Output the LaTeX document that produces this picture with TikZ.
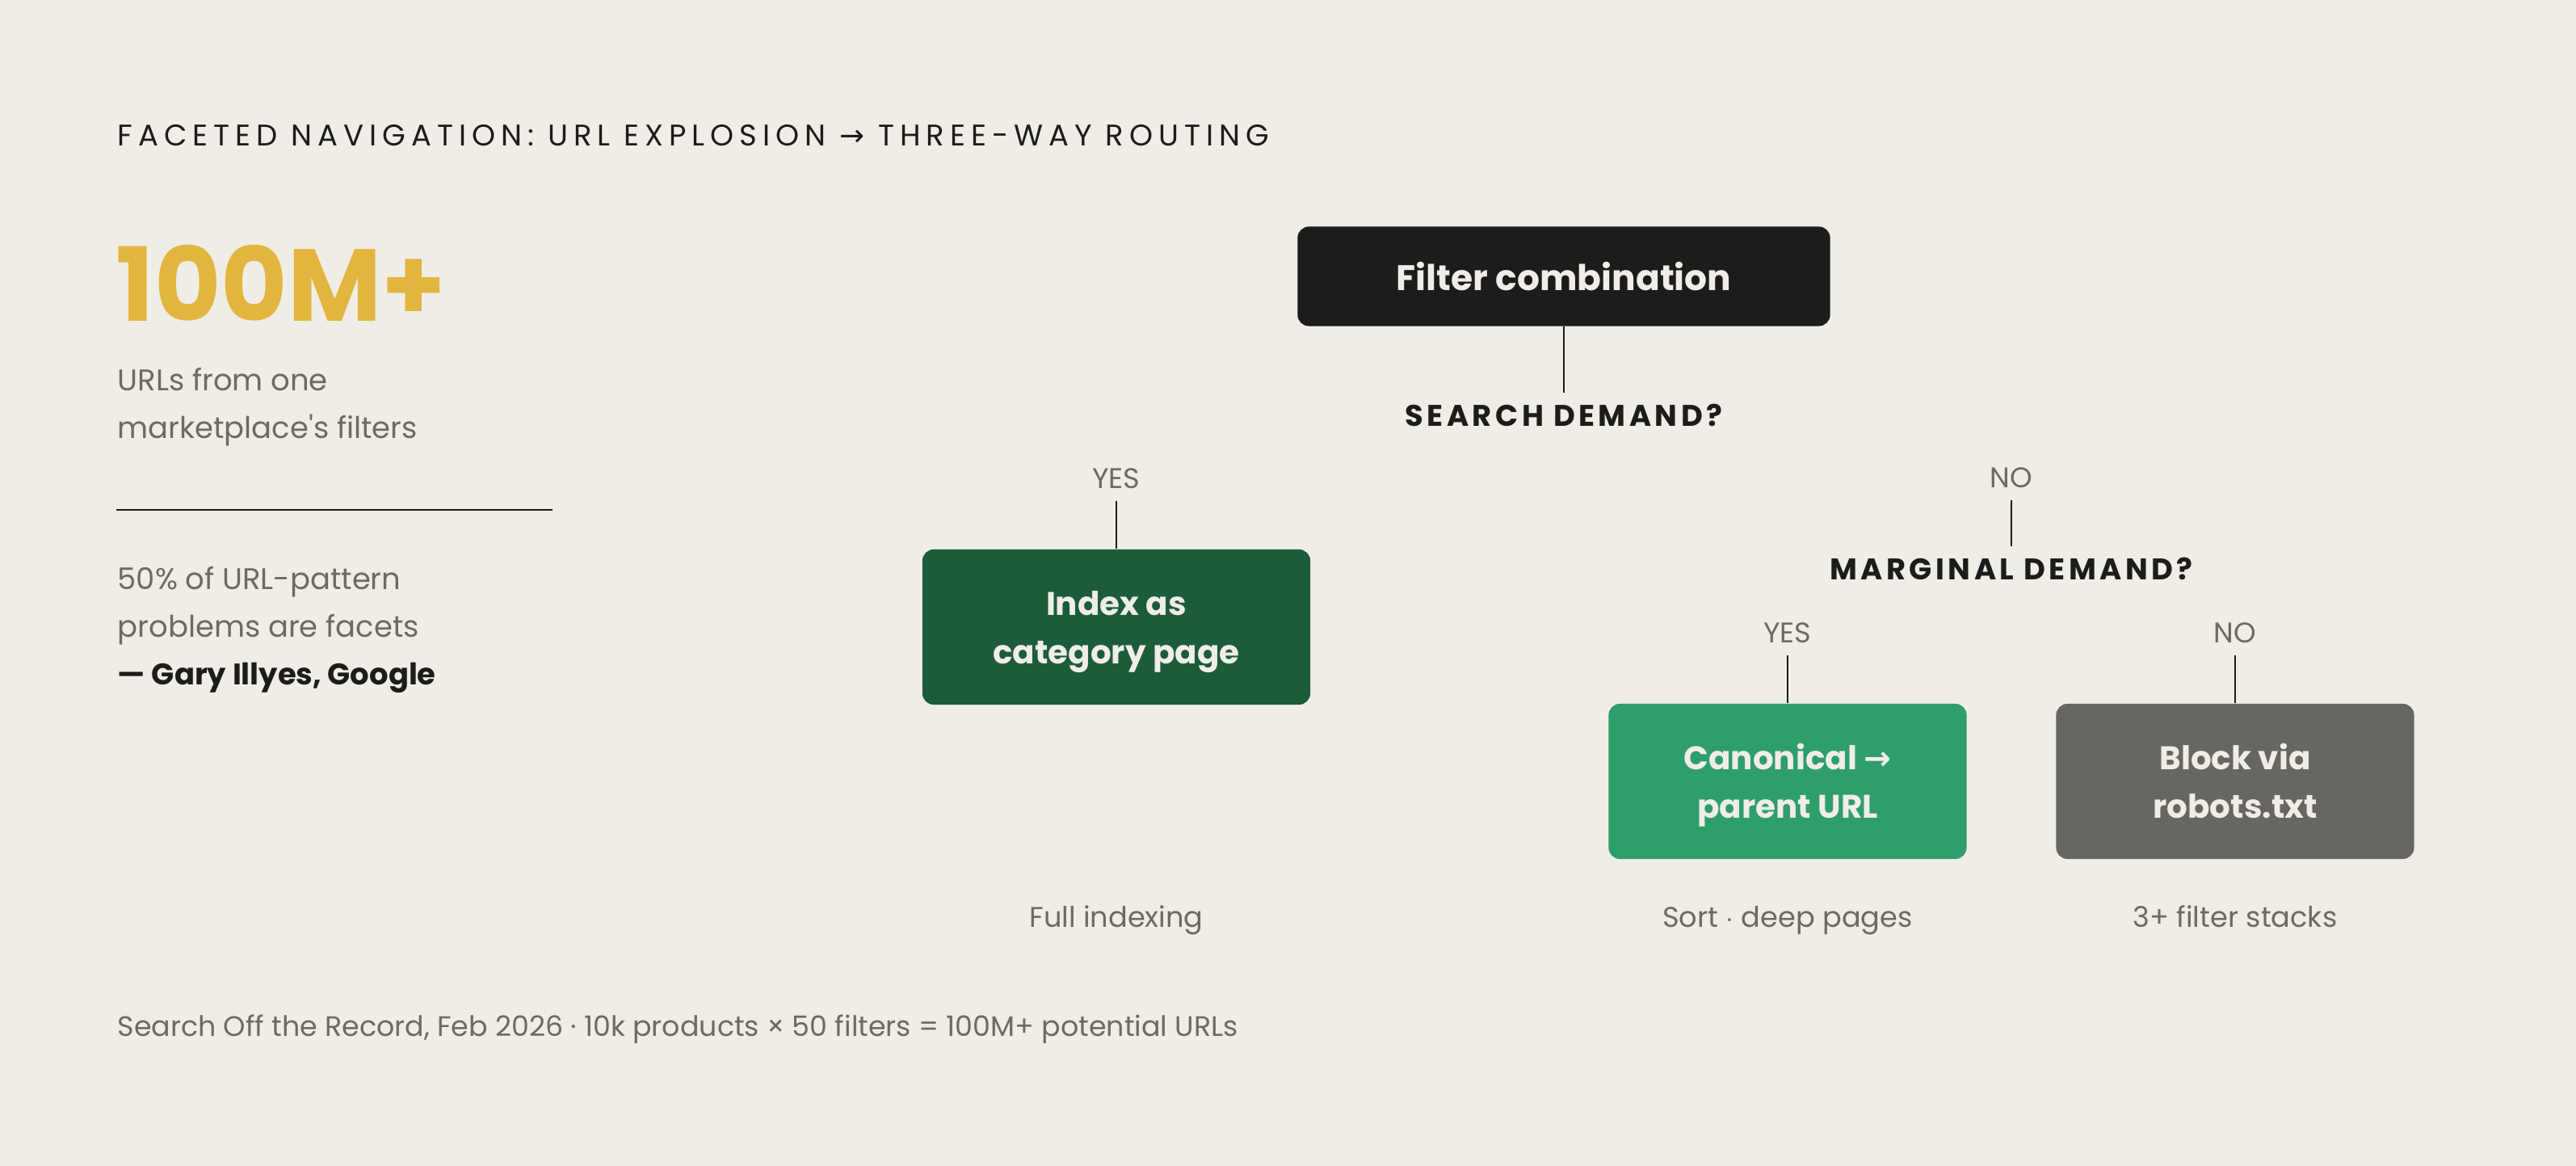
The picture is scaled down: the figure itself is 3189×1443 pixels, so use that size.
\documentclass[tikz,border=0pt]{standalone}
\usepackage{fontspec}
\setmainfont{Poppins}
\newfontfamily\arrowfont{DejaVu Sans}
\newfontfamily\titlefont[LetterSpace=19]{Poppins}
\newfontfamily\askfont[LetterSpace=12]{Poppins}
\usepackage{tikz}
\usetikzlibrary{positioning,calc}

\definecolor{paper}{HTML}{F0EDE6}
\definecolor{ink}{HTML}{1C1C1A}
\definecolor{muted}{HTML}{6B6A65}
\definecolor{gold}{HTML}{E2B53E}
\definecolor{forest}{HTML}{1C5C3B}
\definecolor{mint}{HTML}{2E9E6C}
\definecolor{slate}{HTML}{676661}

\newcommand{\rarr}{{\arrowfont\char"2192}}

\tikzset{
  txt/.style={inner sep=0pt, anchor=base west, text=muted, font=\fontsize{10.5}{16.8}\selectfont},
  ask/.style={anchor=base, inner sep=4pt, text=ink, font=\askfont\bfseries\fontsize{10.5}{12}\selectfont},
  branch/.style={anchor=base, inner sep=4pt, text=muted, font=\fontsize{10}{12}\selectfont},
  outcome/.style={rounded corners=4pt, align=center, text=paper, minimum width=4.43cm,
    minimum height=1.92cm, inner sep=0pt, text height=25.6pt, text depth=0pt,
    font=\bfseries\fontsize{11.5}{16.8}\selectfont},
  note/.style={anchor=base, inner sep=0pt, text=muted, font=\fontsize{10}{12}\selectfont},
  link/.style={draw=ink, line width=0.7pt}
}

\begin{document}
\begin{tikzpicture}[x=0.01cm,y=-0.01cm]
\fill[paper] (0,0) rectangle (3189,1443);

% heading and left column
\node[txt, text=ink, font=\titlefont\fontsize{10.5}{12}\selectfont] (title) at (145,181)
  {FACETED NAVIGATION: URL EXPLOSION \rarr\ THREE-WAY ROUTING};
\node[txt, text=gold, font=\bfseries\fontsize{36}{40}\selectfont] (bignum) at (143,398) {100M+};
% multi-line texts sit on their last baseline
\node[txt, align=left] (bigcap) at (145,543) {URLs from one\\marketplace\textquotesingle s filters};
\draw[ink, line width=0.8pt] (144,631) -- (684,631);
\node[txt, align=left] (quote) at (145,848) {50\% of URL-pattern\\problems are facets\\
  \textcolor{ink}{\bfseries --- Gary Illyes, Google}};

% decision tree
\node[fill=ink, rounded corners=4pt, minimum width=6.59cm, minimum height=1.23cm, text=paper,
  font=\bfseries\fontsize{12.5}{14}\selectfont] (filter) at (1936,342) {Filter combination};
\node[ask] (search) at (1936,528) {SEARCH DEMAND?};
\draw[link] (filter.south) -- (search.north);

\node[branch] (yesA) at (1382,605) {YES};
\node[outcome, fill=forest, minimum width=4.8cm] (index) at (1382,776) {Index as\\category page};
\draw[link] (yesA.south) -- (index.north);

\node[branch] (noA) at (2490,604) {NO};
\node[ask] (marginal) at (2490,718) {MARGINAL DEMAND?};
\draw[link] (noA.south) -- (marginal.north);

\node[branch] (yesB) at (2213,796) {YES};
\node[outcome, fill=mint] (canon) at (2213,967) {Canonical \rarr\\parent URL};
\draw[link] (yesB.south) -- (canon.north);

\node[branch] (noB) at (2767,796) {NO};
\node[outcome, fill=slate] (block) at (2767,967) {Block via\\robots.txt};
\draw[link] (noB.south) -- (block.north);

\node[note] (fullidx) at (1382,1148) {Full indexing};
\node[note] (sortdeep) at (2213,1148) {Sort $\cdot$ deep pages};
\node[note] (stacks) at (2767,1148) {3+ filter stacks};

% source line
\node[txt, font=\fontsize{9.9}{12}\selectfont] (source) at (145,1283)
  {Search Off the Record, Feb 2026 · 10k products × 50 filters = 100M+ potential URLs};
\end{tikzpicture}
\end{document}
